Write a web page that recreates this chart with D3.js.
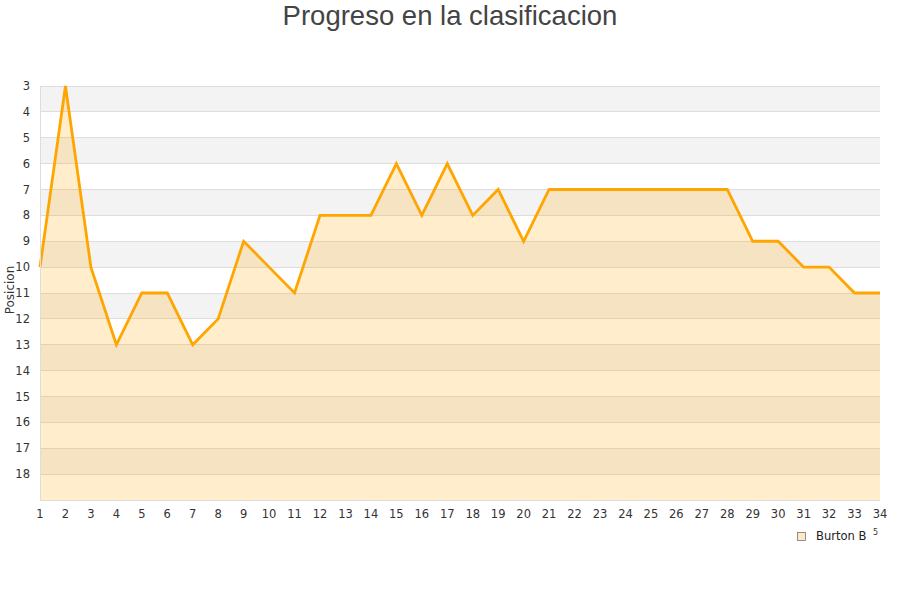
<!DOCTYPE html>
<html><head><meta charset="utf-8">
<script src="https://cdn.jsdelivr.net/npm/d3@7"></script>
<style>body{margin:0;background:#fff}</style>
</head><body>
<svg id="c" width="900" height="600"></svg>
<script>
const rounds = d3.range(1, 35);
const positions = [10,3,10,13,11,11,13,12,9,10,11,8,8,8,6,8,6,8,7,9,7,7,7,7,7,7,7,7,9,9,10,10,11,11];
const yTicks = d3.range(3, 19);
const seriesName = "Burton B";
const title = "Progreso en la clasificacion";
const yLabel = "Posicion";

const svg = d3.select("#c");
const m = {l:40, r:880, t:86, b:500};
const x = d3.scaleLinear().domain([1,34]).range([m.l, m.r]);
const y = d3.scaleLinear().domain([3,19]).range([m.t, m.b]);

// bands
const bands = d3.range(3, 19);
svg.append("g").selectAll("rect").data(bands).join("rect")
  .attr("x", m.l).attr("width", m.r - m.l)
  .attr("y", d => y(d)).attr("height", d => y(d+1) - y(d))
  .attr("fill", (d,i) => i % 2 === 0 ? "#f3f3f3" : "#ffffff");
// grid lines
svg.append("g").selectAll("line").data(yTicks).join("line")
  .attr("x1", m.l).attr("x2", m.r)
  .attr("y1", d => y(d)).attr("y2", d => y(d))
  .attr("stroke", "#dddddd").attr("stroke-width", 1).attr("shape-rendering","crispEdges");

// area
const data = rounds.map((r,i) => ({r, p: positions[i]}));
svg.append("path").datum(data)
  .attr("d", d3.area().x(d => x(d.r)).y0(y(19)).y1(d => y(d.p)))
  .attr("fill", "rgba(255,165,0,0.2)");
svg.append("path").datum(data)
  .attr("d", d3.line().x(d => x(d.r)).y(d => y(d.p)))
  .attr("fill", "none").attr("stroke", "#ffa500").attr("stroke-width", 2.8)
  .attr("stroke-linejoin","miter");

// axes lines
svg.append("line").attr("x1", m.l).attr("x2", m.l).attr("y1", m.t).attr("y2", m.b)
  .attr("stroke","#dddddd").attr("shape-rendering","crispEdges");
svg.append("line").attr("x1", m.l).attr("x2", m.r).attr("y1", m.b).attr("y2", m.b)
  .attr("stroke","#dddddd").attr("shape-rendering","crispEdges");

// tick labels
svg.append("g").selectAll("text").data(yTicks).join("text")
  .attr("x", 30).attr("y", d => y(d)).attr("dy", "0.35em")
  .attr("text-anchor", "end").attr("font-family", "DejaVu Sans").attr("font-size", 11.5)
  .attr("fill", "#333").text(d => d);
svg.append("g").selectAll("text").data(rounds).join("text")
  .attr("x", d => x(d)).attr("y", 518)
  .attr("text-anchor", "middle").attr("font-family", "DejaVu Sans").attr("font-size", 11.5)
  .attr("fill", "#333").text(d => d);

// title
svg.append("text").attr("x", 450).attr("y", 25).attr("text-anchor","middle")
  .attr("font-family","Liberation Sans, Arial, sans-serif").attr("font-size", 27.5)
  .attr("fill","#444").text(title);
// y label
svg.append("text").attr("transform","translate(14,290) rotate(-90)").attr("text-anchor","middle")
  .attr("font-family","DejaVu Sans").attr("font-size", 12).attr("fill","#333").text(yLabel);

// legend
svg.append("rect").attr("x", 797.5).attr("y", 532.5).attr("width", 8).attr("height", 8)
  .attr("fill", "#fde9c6").attr("stroke", "#777").attr("stroke-width", 0.8);
svg.append("text").attr("x", 816).attr("y", 540).attr("font-family","DejaVu Sans")
  .attr("font-size", 11.5).attr("fill","#222").text(seriesName);
svg.append("text").attr("x", 873).attr("y", 535).attr("font-family","DejaVu Sans")
  .attr("font-size", 8).attr("fill","#333").text("5");
</script>
</body></html>
